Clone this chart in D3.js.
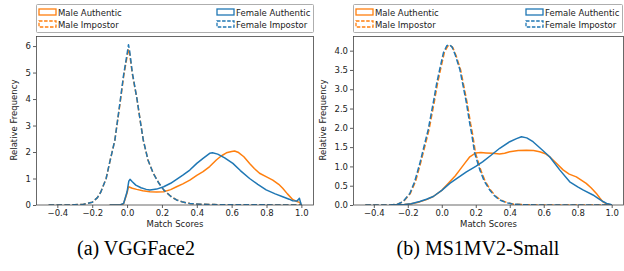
<!DOCTYPE html>
<html lang="en">
<head>
<meta charset="utf-8">
<script src="https://d3js.org/d3.v7.min.js"></script>
<style>
  body { margin: 0; background: #fff; }
  text { font-family: "DejaVu Sans", sans-serif; fill: #222; }
  .caption { font-family: "Liberation Serif", "Times New Roman", serif; font-size: 20px; fill: #000; }
</style>
</head>
<body>
<svg id="chart" width="624" height="271"></svg>
<script>
// ----- data: [score, relative frequency] -----
var seriesNames = ["Male Authentic", "Male Impostor", "Female Authentic", "Female Impostor"];
var captions = ["(a) VGGFace2", "(b) MS1MV2-Small"];
var xTicks = [-0.4, -0.2, 0.0, 0.2, 0.4, 0.6, 0.8, 1.0];
var yTicksA = [0, 1, 2, 3, 4, 5, 6];
var yTicksB = [0.0, 0.5, 1.0, 1.5, 2.0, 2.5, 3.0, 3.5, 4.0];

// (a) VGGFace2
var vggMaleAuth = [[-0.1,0],[-0.04,0],[-0.02,0.05],[0,0.45],[0.008,0.69],[0.03,0.63],[0.055,0.59],[0.09,0.54],
  [0.131,0.5],[0.17,0.49],[0.21,0.5],[0.25,0.58],[0.284,0.69],[0.32,0.8],[0.36,0.94],[0.4,1.12],[0.436,1.26],
  [0.474,1.45],[0.512,1.7],[0.54,1.85],[0.57,1.97],[0.6,2.02],[0.617,2.04],[0.64,1.98],[0.67,1.82],[0.703,1.57],
  [0.73,1.38],[0.76,1.2],[0.8,1.06],[0.836,0.94],[0.87,0.78],[0.893,0.63],[0.92,0.42],[0.95,0.21],[0.975,0.13],
  [0.989,0.1],[1.0,0]];
var vggMaleImp = [[-0.45,0],[-0.35,0],[-0.3,0.01],[-0.25,0.03],[-0.2,0.1],[-0.17,0.28],[-0.15,0.5],[-0.12,1.0],
  [-0.1,1.6],[-0.07,2.45],[-0.04,3.85],[-0.02,4.85],[0,5.6],[0.008,5.9],[0.015,5.7],[0.03,4.95],[0.057,4.0],
  [0.075,3.2],[0.093,2.45],[0.12,1.7],[0.15,1.2],[0.18,0.85],[0.21,0.57],[0.25,0.33],[0.284,0.19],[0.32,0.11],
  [0.36,0.06],[0.42,0.03],[0.5,0.015],[0.6,0.01],[0.8,0.005],[1.0,0]];
var vggFemaleAuth = [[-0.1,0],[-0.04,0],[-0.02,0.06],[0,0.5],[0.01,0.9],[0.017,0.97],[0.03,0.88],[0.05,0.75],
  [0.08,0.65],[0.11,0.59],[0.131,0.57],[0.17,0.6],[0.21,0.69],[0.25,0.82],[0.284,0.97],[0.32,1.13],[0.36,1.32],
  [0.4,1.57],[0.436,1.76],[0.474,1.95],[0.49,1.97],[0.52,1.92],[0.56,1.78],[0.607,1.57],[0.65,1.3],[0.703,1.0],
  [0.75,0.78],[0.798,0.57],[0.85,0.42],[0.893,0.31],[0.93,0.22],[0.95,0.16],[0.975,0.15],[0.989,0.25],
  [0.995,0.1],[1.0,0]];
var vggFemaleImp = [[-0.45,0],[-0.35,0],[-0.3,0.01],[-0.25,0.03],[-0.2,0.1],[-0.17,0.28],[-0.15,0.5],[-0.12,1.0],
  [-0.1,1.6],[-0.07,2.45],[-0.04,3.9],[-0.02,4.9],[0,5.7],[0.008,6.05],[0.015,5.8],[0.03,5.0],[0.057,4.0],
  [0.075,3.2],[0.093,2.45],[0.12,1.7],[0.15,1.2],[0.18,0.85],[0.21,0.57],[0.25,0.33],[0.284,0.19],[0.32,0.11],
  [0.36,0.06],[0.42,0.03],[0.5,0.015],[0.6,0.01],[0.8,0.005],[1.0,0]];

// (b) MS1MV2-Small
var msMaleAuth = [[-0.3,0],[-0.22,0.01],[-0.18,0.03],[-0.13,0.08],[-0.09,0.14],[-0.05,0.22],[0,0.38],[0.047,0.6],
  [0.08,0.76],[0.106,0.91],[0.135,1.08],[0.165,1.25],[0.2,1.35],[0.23,1.36],[0.26,1.35],[0.3,1.34],[0.34,1.32],
  [0.37,1.34],[0.4,1.38],[0.45,1.41],[0.498,1.42],[0.54,1.41],[0.576,1.38],[0.61,1.33],[0.635,1.25],[0.67,1.1],
  [0.714,0.91],[0.75,0.8],[0.792,0.73],[0.85,0.56],[0.88,0.44],[0.91,0.3],[0.93,0.18],[0.949,0.08],[0.97,0.03],
  [0.99,0.01],[1.0,0]];
var msMaleImp = [[-0.45,0],[-0.3,0],[-0.26,0.02],[-0.225,0.09],[-0.185,0.3],[-0.155,0.6],[-0.125,1.08],[-0.095,1.6],
  [-0.075,1.95],[-0.045,2.65],[-0.025,3.15],[-0.007,3.52],[0.015,3.95],[0.035,4.12],[0.048,4.14],[0.065,4.08],
  [0.085,3.86],[0.111,3.5],[0.13,3.08],[0.15,2.63],[0.17,2.1],[0.18,1.87],[0.199,1.34],[0.229,0.91],[0.255,0.62],
  [0.287,0.39],[0.315,0.24],[0.346,0.13],[0.385,0.06],[0.425,0.02],[0.5,0.005],[0.6,0],[1.0,0]];
var msFemaleAuth = [[-0.3,0],[-0.22,0.01],[-0.18,0.03],[-0.13,0.09],[-0.09,0.15],[-0.05,0.22],[0,0.38],[0.047,0.56],
  [0.1,0.72],[0.145,0.86],[0.2,1.0],[0.24,1.12],[0.29,1.29],[0.341,1.47],[0.4,1.64],[0.44,1.72],[0.469,1.77],
  [0.5,1.74],[0.537,1.64],[0.58,1.47],[0.635,1.25],[0.694,0.91],[0.753,0.6],[0.8,0.47],[0.831,0.39],[0.89,0.26],
  [0.92,0.17],[0.949,0.09],[0.97,0.04],[0.99,0.02],[1.0,0]];
var msFemaleImp = [[-0.45,0],[-0.3,0],[-0.26,0.02],[-0.228,0.09],[-0.188,0.3],[-0.16,0.6],[-0.129,1.08],[-0.1,1.6],
  [-0.08,1.95],[-0.05,2.65],[-0.03,3.15],[-0.012,3.52],[0.01,3.95],[0.03,4.13],[0.043,4.16],[0.06,4.1],
  [0.08,3.88],[0.106,3.52],[0.125,3.1],[0.145,2.65],[0.165,2.1],[0.175,1.87],[0.194,1.34],[0.224,0.91],[0.25,0.62],
  [0.282,0.39],[0.31,0.24],[0.341,0.13],[0.38,0.06],[0.42,0.02],[0.5,0.005],[0.6,0],[1.0,0]];

var orange = "#ff7f0e", blue = "#1f77b4";
var styles = [
  {color: orange, dash: null},
  {color: orange, dash: "5.5,2.4"},
  {color: blue, dash: null},
  {color: blue, dash: "5.5,2.4"}
];

var svg = d3.select("#chart");

function drawPanel(p) {
  var x = d3.scaleLinear().domain([-0.5225, 1.0725]).range([p.left, p.right]);
  var y = d3.scaleLinear().domain([0, p.ymax]).range([205, 36]);
  var g = svg.append("g");

  var line = d3.line().x(d => x(d[0])).y(d => y(d[1]));

  // clip to axes box
  var clipId = "clip" + p.id;
  g.append("clipPath").attr("id", clipId).append("rect")
    .attr("x", p.left).attr("y", 36).attr("width", p.right - p.left).attr("height", 169);

  var plot = g.append("g").attr("clip-path", "url(#" + clipId + ")");
  p.series.forEach(function(s, i) {
    plot.append("path")
      .attr("d", line(s))
      .attr("fill", "none")
      .attr("stroke", styles[i].color)
      .attr("stroke-width", 1.5)
      .attr("stroke-dasharray", styles[i].dash)
      .attr("stroke-linejoin", "round");
  });

  // axes
  var xAxis = d3.axisBottom(x).tickValues(xTicks).tickSize(3).tickPadding(2)
    .tickFormat(d => d3.format(".1f")(d).replace("-", "\u2212"));
  var gx = g.append("g").attr("transform", "translate(0,205)").call(xAxis);
  var yAxis = d3.axisLeft(y).tickValues(p.yTicks).tickSize(3).tickPadding(2)
    .tickFormat(p.yFmt);
  var gy = g.append("g").attr("transform", "translate(" + p.left + ",0)").call(yAxis);
  [gx, gy].forEach(function(a) {
    a.select(".domain").remove();
    a.selectAll("line").attr("stroke", "#333").attr("stroke-width", 0.8);
    a.selectAll("text").style("font-size", "8.5px").attr("fill", "#222");
  });

  g.append("rect")
    .attr("x", p.left + 0.5).attr("y", 36.5)
    .attr("width", p.right - p.left - 1).attr("height", 168.5)
    .attr("fill", "none").attr("stroke", "#444").attr("stroke-width", 0.8);

  g.append("text")
    .attr("x", (p.left + p.right) / 2).attr("y", 227)
    .attr("text-anchor", "middle").style("font-size", "8.5px")
    .text("Match Scores");
  g.append("text")
    .attr("transform", "translate(" + p.ylabX + ",120) rotate(-90)")
    .attr("text-anchor", "middle").style("font-size", "8.5px")
    .text("Relative Frequency");

  // legend
  var lg = g.append("g");
  lg.append("rect")
    .attr("x", p.left + 0.5).attr("y", 4.5)
    .attr("width", p.legRight - p.left - 1).attr("height", 28)
    .attr("fill", "#fff").attr("stroke", "#999").attr("stroke-width", 0.8).attr("rx", 1);
  var cols = [p.left + 3, p.legCol2];
  seriesNames.forEach(function(name, i) {
    var cx = cols[Math.floor(i / 2)];
    var cy = i % 2 === 0 ? 9 : 21;
    lg.append("rect")
      .attr("x", cx).attr("y", cy)
      .attr("width", 17).attr("height", 6)
      .attr("fill", "none").attr("stroke", styles[i].color)
      .attr("stroke-width", 1.3).attr("stroke-dasharray", styles[i].dash ? "3.5,1.6" : null);
    lg.append("text")
      .attr("x", cx + 19).attr("y", cy + 6.5)
      .style("font-size", "8.5px")
      .text(name);
  });

  svg.append("text").attr("class", "caption")
    .attr("x", p.capX).attr("y", 255)
    .attr("text-anchor", "middle")
    .text(p.caption);
}

drawPanel({
  id: "a", left: 36, right: 314, ymax: 6.38, yTicks: yTicksA, yFmt: d3.format("d"),
  series: [vggMaleAuth, vggMaleImp, vggFemaleAuth, vggFemaleImp],
  ylabX: 17, legRight: 314, legCol2: 217, caption: captions[0], capX: 136
});
drawPanel({
  id: "b", left: 353, right: 624, ymax: 4.38, yTicks: yTicksB, yFmt: d3.format(".1f"),
  series: [msMaleAuth, msMaleImp, msFemaleAuth, msFemaleImp],
  ylabX: 326, legRight: 623, legCol2: 526, caption: captions[1], capX: 478
});
</script>
</body>
</html>
